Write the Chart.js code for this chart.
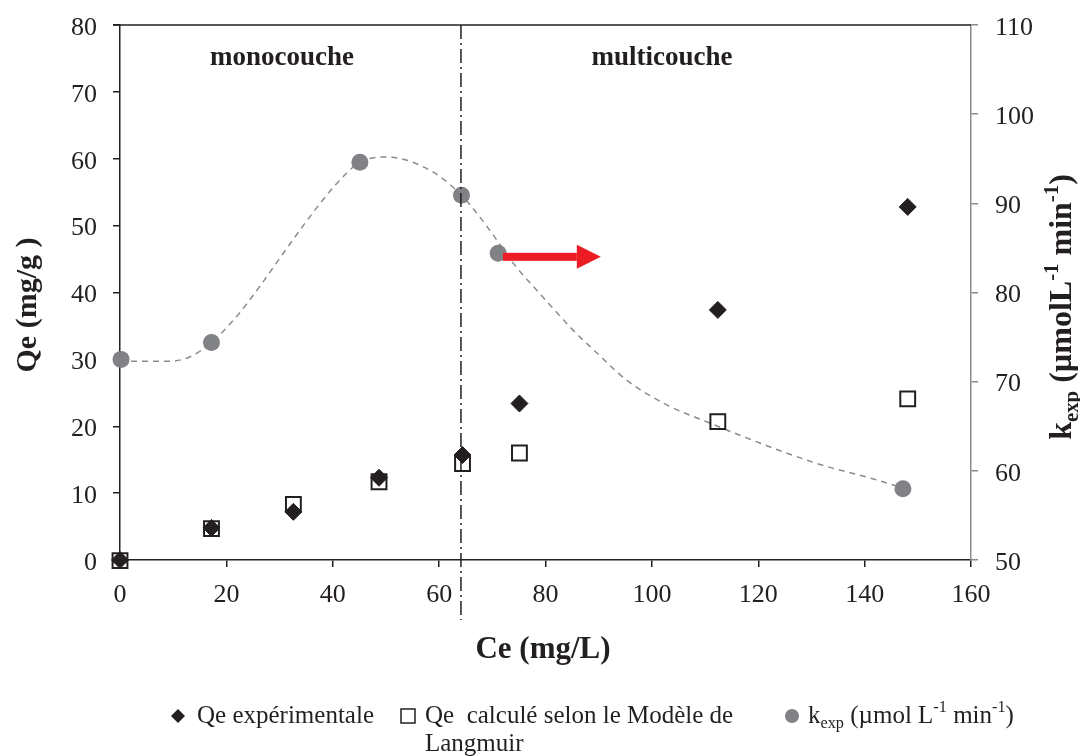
<!DOCTYPE html>
<html>
<head>
<meta charset="utf-8">
<script src="https://cdn.jsdelivr.net/npm/chart.js@4.4.1/dist/chart.umd.min.js"></script>
<style>
  html, body { margin: 0; padding: 0; background: #fff; }
  #wrap { width: 1080px; height: 756px; }
</style>
</head>
<body>
<div id="wrap"><canvas id="isotherme"></canvas></div>
<script>
// valeurs
var ce = [0, 17.2, 32.6, 48.7, 64.4, 75.1, 112.4, 148.1];
var qeExp = [0, 4.8, 7.2, 12.3, 15.7, 23.4, 37.4, 52.8];
var qeLangmuir = [-0.1, 4.7, 8.3, 11.7, 14.4, 16.0, 20.7, 24.1];

var ceK = [0.2, 17.2, 45.1, 64.2, 71.1, 147.2];
var kExp = [72.5, 74.4, 94.6, 90.9, 84.4, 58.0];

// courbe de tendance (pointillés)
var curveX = [0, 9.4, 13.2, 17.2, 21.9, 26.3, 30.7, 35.7, 40.7, 45.1, 50.1, 58.3, 64.2, 69.5, 73.9, 79.5, 85.8, 89.0, 95.2, 102.8, 110.3, 117.8, 125.3, 132.8, 140.4, 146.6];
var curveY = [72.3, 72.3, 72.8, 74.4, 77.3, 80.7, 84.4, 88.5, 92.2, 94.6, 95.2, 93.7, 90.9, 87.0, 83.3, 79.5, 75.4, 73.6, 70.2, 67.4, 65.5, 63.7, 62.0, 60.5, 59.3, 58.2];

var xTicks = [0, 20, 40, 60, 80, 100, 120, 140, 160];
var yTicks = [0, 10, 20, 30, 40, 50, 60, 70, 80];
var y1Ticks = [50, 60, 70, 80, 90, 100, 110];

var separation = 64.1;          // limite mono / multicouche
var arrowFrom = [72.0, 84.0];   // fleche rouge (axe de droite)
var arrowTo = [90.4, 84.0];

var ink = '#231f20';
var grey = '#808285';
var serif = '"Liberation Serif", "Times New Roman", serif';

function pts(xs, ys) {
  var out = [];
  for (var i = 0; i < xs.length; i++) out.push({x: xs[i], y: ys[i]});
  return out;
}

// texte avec indices / exposants : [texte, 0 normal | 1 indice | 2 exposant]
function drawRuns(ctx, runs, x, y, size, weight, centered) {
  var total = 0;
  runs.forEach(function(r) {
    ctx.font = weight + ' ' + (r[1] ? size * 0.65 : size) + 'px ' + serif;
    total += ctx.measureText(r[0]).width;
  });
  var cx = centered ? x - total / 2 : x;
  runs.forEach(function(r) {
    ctx.font = weight + ' ' + (r[1] ? size * 0.65 : size) + 'px ' + serif;
    var dy = r[1] == 1 ? size * 0.3 : (r[1] == 2 ? -size * 0.33 : 0);
    ctx.fillText(r[0], cx, y + dy);
    cx += ctx.measureText(r[0]).width;
  });
}

var decor = {
  id: 'decor',
  afterDatasetsDraw: function(chart) {
    var ctx = chart.ctx, xs = chart.scales.x, y1 = chart.scales.y1, area = chart.chartArea;
    ctx.save();
    // cadre du haut
    ctx.strokeStyle = ink;
    ctx.lineWidth = 1.5;
    ctx.beginPath();
    ctx.moveTo(area.left - 7, area.top);
    ctx.lineTo(area.right, area.top);
    ctx.stroke();

    // ligne tiret-point
    var sx = xs.getPixelForValue(separation);
    ctx.setLineDash([14, 4, 2, 4]);
    ctx.lineWidth = 1.5;
    ctx.beginPath();
    ctx.moveTo(sx, area.top);
    ctx.lineTo(sx, area.bottom + 60);
    ctx.stroke();
    ctx.setLineDash([]);

    // fleche rouge
    var ax = xs.getPixelForValue(arrowFrom[0]), ay = y1.getPixelForValue(arrowFrom[1]);
    var bx = xs.getPixelForValue(arrowTo[0]);
    ctx.fillStyle = '#ed1c24';
    ctx.fillRect(ax, ay - 4, bx - 24 - ax, 8);
    ctx.beginPath();
    ctx.moveTo(bx - 24, ay - 12);
    ctx.lineTo(bx, ay);
    ctx.lineTo(bx - 24, ay + 12);
    ctx.closePath();
    ctx.fill();
    ctx.restore();
  },
  afterDraw: function(chart) {
    var ctx = chart.ctx;
    ctx.save();
    ctx.fillStyle = ink;
    ctx.textBaseline = 'middle';
    ctx.textAlign = 'left';

    drawRuns(ctx, [['monocouche', 0]], 282, 58, 27, 'bold', true);
    drawRuns(ctx, [['multicouche', 0]], 662, 58, 27, 'bold', true);

    // titres des axes
    drawRuns(ctx, [['Ce (mg/L)', 0]], 543, 650, 31, 'bold', true);

    ctx.save();
    ctx.translate(28, 305);
    ctx.rotate(-Math.PI / 2);
    drawRuns(ctx, [['Qe (mg/g )', 0]], 0, 0, 30, 'bold', true);
    ctx.restore();

    ctx.save();
    ctx.translate(1063, 307);
    ctx.rotate(-Math.PI / 2);
    drawRuns(ctx, [['k', 0], ['exp', 1], [' (\u00b5molL', 0], ['-1', 2], [' min', 0], ['-1', 2], [')', 0]], 0, 0, 32, 'bold', true);
    ctx.restore();

    // legende
    var ly = 716;
    ctx.fillStyle = ink;
    ctx.beginPath();
    ctx.moveTo(178, ly - 7); ctx.lineTo(185, ly); ctx.lineTo(178, ly + 7); ctx.lineTo(171, ly);
    ctx.closePath();
    ctx.fill();
    drawRuns(ctx, [['Qe exp\u00e9rimentale', 0]], 197, ly, 25, 'normal', false);

    ctx.strokeStyle = ink;
    ctx.lineWidth = 1.5;
    ctx.strokeRect(401, ly - 7, 14, 14);
    drawRuns(ctx, [['Qe  calcul\u00e9 selon le Mod\u00e8le de', 0]], 425, ly, 25, 'normal', false);
    drawRuns(ctx, [['Langmuir', 0]], 425, ly + 28, 25, 'normal', false);

    ctx.fillStyle = grey;
    ctx.beginPath();
    ctx.arc(792, ly, 7, 0, Math.PI * 2);
    ctx.fill();
    ctx.fillStyle = ink;
    drawRuns(ctx, [['k', 0], ['exp', 1], [' (\u00b5mol L', 0], ['-1', 2], [' min', 0], ['-1', 2], [')', 0]], 808, ly, 25, 'normal', false);
    ctx.restore();
  }
};

function tickFont() { return {family: serif, size: 26}; }

new Chart(document.getElementById('isotherme'), {
  type: 'scatter',
  data: {
    datasets: [
      {
        label: 'Qe exp\u00e9rimentale',
        data: pts(ce, qeExp),
        yAxisID: 'y',
        clip: false,
        pointStyle: 'rectRot',
        pointRadius: 8.5,
        backgroundColor: ink,
        borderColor: ink,
        borderWidth: 1
      },
      {
        label: 'Qe calcul\u00e9 selon le Mod\u00e8le de Langmuir',
        data: pts(ce, qeLangmuir),
        yAxisID: 'y',
        clip: false,
        pointStyle: 'rect',
        pointRadius: 10.5,
        backgroundColor: 'rgba(0,0,0,0)',
        borderColor: ink,
        borderWidth: 2
      },
      {
        label: 'kexp',
        data: pts(ceK, kExp),
        yAxisID: 'y1',
        clip: false,
        pointStyle: 'circle',
        pointRadius: 8.5,
        backgroundColor: grey,
        borderColor: grey,
        borderWidth: 0
      },
      {
        label: 'tendance',
        data: pts(curveX, curveY),
        yAxisID: 'y1',
        showLine: true,
        pointRadius: 0,
        borderColor: '#8c8c8c',
        borderWidth: 1.5,
        borderDash: [6, 5],
        tension: 0.4,
        cubicInterpolationMode: 'monotone'
      }
    ]
  },
  options: {
    responsive: true,
    maintainAspectRatio: false,
    animation: false,
    layout: {padding: {top: 25, left: 0, right: 0, bottom: 0}},
    plugins: {legend: {display: false}, tooltip: {enabled: false}},
    scales: {
      x: {
        type: 'linear', position: 'bottom', min: 0, max: 160,
        afterBuildTicks: function(s) { s.ticks = xTicks.map(function(v) { return {value: v}; }); },
        ticks: {font: tickFont(), color: ink, padding: 13, maxRotation: 0},
        grid: {drawOnChartArea: false, tickLength: 7, color: ink, lineWidth: 1.5},
        border: {color: ink, width: 1.5},
        afterFit: function(s) { s.height = 196; s.paddingLeft = 0; s.paddingRight = 0; }
      },
      y: {
        position: 'left', min: 0, max: 80,
        afterBuildTicks: function(s) { s.ticks = yTicks.map(function(v) { return {value: v}; }); },
        ticks: {font: tickFont(), color: ink, padding: 16, labelOffset: 3},
        grid: {drawOnChartArea: false, tickLength: 7, color: ink, lineWidth: 1.5},
        border: {color: ink, width: 1.5},
        afterFit: function(s) { s.width = 120; s.paddingTop = 0; s.paddingBottom = 0; }
      },
      y1: {
        position: 'right', min: 50, max: 110,
        afterBuildTicks: function(s) { s.ticks = y1Ticks.map(function(v) { return {value: v}; }); },
        ticks: {font: tickFont(), color: ink, padding: 17, labelOffset: 3},
        grid: {drawOnChartArea: false, tickLength: 7, color: '#8a8a8a', lineWidth: 1.5},
        border: {color: '#8a8a8a', width: 1.5},
        afterFit: function(s) { s.width = 109; s.paddingTop = 0; s.paddingBottom = 0; }
      }
    }
  },
  plugins: [decor]
});
</script>
</body>
</html>
